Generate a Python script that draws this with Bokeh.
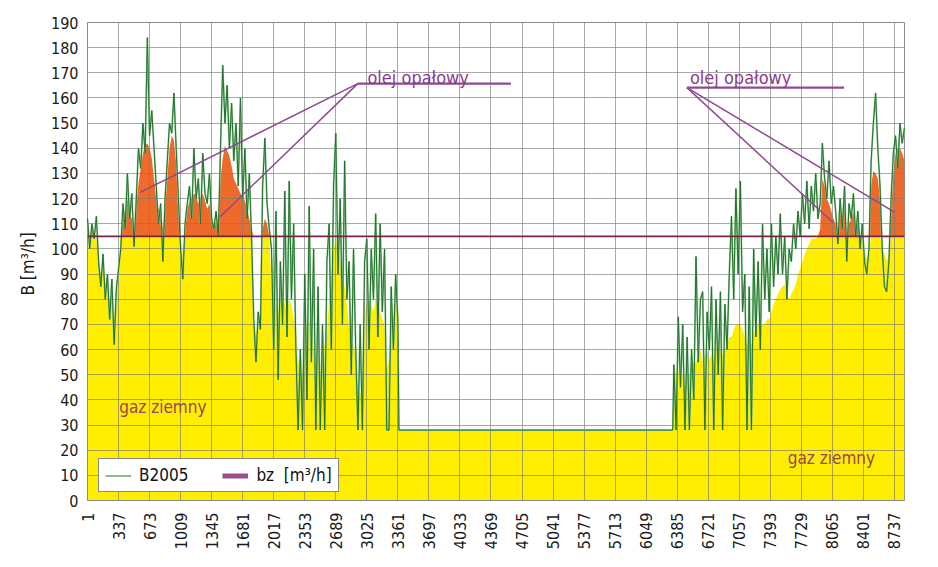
import numpy as np
from bokeh.plotting import figure
from bokeh.models import FixedTicker, Span, Legend, LegendItem, Range1d, Label, ColumnDataSource
from bokeh.embed import file_html
from bokeh.resources import INLINE

FONT = "DejaVu Sans Condensed"

# ---------------- data ----------------
x_ticks = [1, 337, 673, 1009, 1345, 1681, 2017, 2353, 2689, 3025, 3361, 3697, 4033,
           4369, 4705, 5041, 5377, 5713, 6049, 6385, 6721, 7057, 7393, 7729, 8065,
           8401, 8737]
x_tick_labels = [str(t) for t in x_ticks]
y_ticks = [0, 10, 20, 30, 40, 50, 60, 70, 80, 90, 100, 110, 120, 130, 140, 150,
           160, 170, 180, 190]

step_hours = 24
winter1_start = 1
winter2_start = 6349

# B2005 hourly demand (read at ~daily spacing), heating season Jan-May
b_winter1 = [112, 100, 110, 104, 113,
             95, 85, 98, 80, 90, 72, 88, 62, 84, 92,
             100, 118, 108, 130, 112, 122, 101,
             120, 140, 132, 150, 138, 184, 145, 155, 140,
             125, 110, 118, 95, 120,
             135, 150, 146, 162, 140,
             120, 100, 88, 110,
             118, 125, 112, 140, 120, 128, 110, 138, 122, 118, 130, 112,
             108, 115, 105,
             140, 173, 150, 165, 140, 158, 135,
             150, 125, 160, 120, 140, 112, 130, 105,
             72, 55, 75, 68,
             125, 144, 118, 108,
             100, 60, 115, 48, 95, 70, 123, 65, 127, 80, 110, 60,
             28, 60, 28,
             90, 40, 117, 55, 100, 28, 85, 28, 70, 28, 95,
             110, 60, 125, 146, 90, 120, 70, 135, 80,
             95, 50, 100, 60,
             28, 70, 28,
             95, 104, 60, 100, 80, 114, 65, 110, 75, 100,
             28, 28,
             85, 60, 90, 72]
# fill level (gas + oil split), heating season Jan-May
s_winter1 = [106, 105, 108, 106, 104,
             96, 90, 92, 84, 86, 78, 80, 70, 82, 88,
             104, 112, 116, 120, 114, 112, 106,
             118, 126, 132, 138, 141, 142, 140, 136, 128,
             120, 116, 114, 108, 116,
             128, 140, 145, 143, 134,
             114, 104, 98, 106,
             116, 119, 120, 122, 121, 118, 120, 122, 119, 116, 118, 113,
             108, 111, 112,
             128, 136, 141, 139, 137, 133, 128,
             126, 124, 122, 121, 119, 116, 112, 108,
             70, 66, 70, 68,
             108, 112, 110, 104,
             86, 80, 78, 74, 80, 83, 78, 75, 80, 78, 72, 68,
             56, 52, 50,
             64, 70, 72, 68, 60, 54, 58, 50, 58, 62, 66,
             80, 90, 100, 104, 100, 95, 90, 85, 78,
             70, 64, 62, 58,
             45, 42, 44,
             74, 78, 80, 78, 75, 80, 78, 75, 72, 70,
             52, 56,
             74, 72, 78, 76]

summer_hours = [3373, 6337]
summer_level = [28, 28]

# heating season Sep-Dec
b_winter2 = [54,
             28, 73, 45, 70, 28, 65, 28, 60, 40,
             97, 55, 80,
             83, 28, 75, 60, 85, 28, 80, 50, 83, 28, 78, 60, 90,
             113, 80, 124, 90, 127, 75,
             90, 28, 85, 28, 100, 65, 95, 60,
             110, 80, 100, 75, 110, 85, 105, 90, 114,
             90, 105, 80, 100, 95, 110,
             100, 115, 105, 122, 110, 127, 108, 125, 115, 130, 112, 118,
             142, 128, 120, 135, 118, 125, 115,
             102, 120, 108, 125, 95, 118, 112, 122, 105, 115, 100, 110, 95, 90, 100,
             135, 150, 162, 140, 125,
             100, 85, 83, 95,
             120, 138, 145, 132, 150, 142, 148]
s_winter2 = [53,
             50, 52, 48, 50, 45, 48, 50, 52, 55,
             55, 58, 60,
             55, 58, 60, 56, 58, 55, 60, 62, 60, 58, 60, 62, 65,
             65, 68, 70, 70, 70, 68,
             65, 62, 64, 62, 66, 68, 70, 70,
             70, 70, 72, 72, 75, 78, 80, 82, 84,
             85, 86, 82, 80, 82, 84,
             86, 90, 92, 95, 98, 100, 102, 104, 104, 104, 105, 108,
             128, 125, 120, 118, 115, 112, 110,
             104, 115, 112, 118, 106, 110, 112, 115, 108, 110, 104, 103, 99, 96, 98,
             125, 131, 130, 128, 120,
             100, 98, 95, 98,
             115, 130, 138, 140, 140, 138, 135]

bz_level = 105

# ---------------- assemble ----------------
hours = np.concatenate([
    winter1_start + step_hours * np.arange(len(b_winter1)),
    np.array(summer_hours),
    winter2_start + step_hours * np.arange(len(b_winter2)),
]).astype(float)
B = np.array(b_winter1 + summer_level + b_winter2, dtype=float)
S = np.array(s_winter1 + summer_level + s_winter2, dtype=float)

gas = np.minimum(S, bz_level)
oil = np.maximum(S, bz_level)

src = ColumnDataSource(dict(h=hours, b=B, gas=gas, oil=oil, base=np.zeros_like(S),
                            bz=np.full_like(S, bz_level)))

p = figure(width=938, height=567, output_backend="svg", toolbar_location=None,
           x_range=Range1d(1, 8846), y_range=Range1d(0, 190),
           min_border_left=87, min_border_right=34, min_border_top=22,
           min_border_bottom=67)
p.background_fill_color = "white"
p.border_fill_color = "white"
p.outline_line_color = "#8a8a8a"
p.outline_line_width = 1

# fills
p.varea(x="h", y1="base", y2="gas", source=src, fill_color="#FFEE00", fill_alpha=1)
p.varea(x="h", y1="bz", y2="oil", source=src, fill_color="#EE6A2A", fill_alpha=1)

# demand line
r_light = p.line(x="h", y="b", source=src, line_color="#86c886", line_width=1.8, line_alpha=0.9)
r_b = p.line(x="h", y="b", source=src, line_color="#23702f", line_width=1.0)
r_light.level = "annotation"
r_b.level = "annotation"

# bz horizontal line
p.add_layout(Span(location=bz_level, dimension="width", line_color="#7a2445", line_width=1.6))

# legend swatch for bz (no visible data)
r_bz_leg = p.line(x=[np.nan, np.nan], y=[np.nan, np.nan], line_color="#9b4d8e", line_width=5)

# annotation leader lines
ann_color = "#8e4a8e"
lead = p.multi_line(xs=[[2927, 4585], [2927, 571], [2927, 1431],
                        [6490, 8192], [6490, 8069], [6490, 8737]],
                    ys=[[165.7, 165.7], [165.7, 122.5], [165.7, 112.6],
                        [164.1, 164.1], [164.1, 110.6], [164.1, 114.6]],
                    line_color=ann_color, line_width=[2.2, 1.5, 1.5, 2.2, 1.5, 1.5])
lead.level = "annotation"

for (lx, ly) in [(3032, 168.3), (6523, 168.3)]:
    p.add_layout(Label(x=lx, y=ly, text="olej opałowy", text_font=FONT,
                       text_font_size="18px", text_color="#8b3d8b",
                       text_baseline="alphabetic"))
for (lx, ly) in [(344, 37.1), (7582, 17.0)]:
    p.add_layout(Label(x=lx, y=ly, text="gaz ziemny", text_font=FONT,
                       text_font_size="17px", text_color="#9a4656",
                       text_baseline="alphabetic"))

# axes
p.xaxis.ticker = FixedTicker(ticks=x_ticks)
p.xaxis.major_label_overrides = {t: l for t, l in zip(x_ticks, x_tick_labels)}
p.xaxis.major_label_orientation = np.pi / 2
p.yaxis.ticker = FixedTicker(ticks=y_ticks)
for ax in (p.xaxis, p.yaxis):
    ax.axis_line_color = "#8a8a8a"
    ax.major_tick_line_color = None
    ax.minor_tick_line_color = None
    ax.major_tick_out = 0
    ax.major_tick_in = 0
    ax.major_label_text_font = FONT
    ax.major_label_text_font_size = "16px"
    ax.major_label_text_color = "#1a1a1a"
p.xaxis.major_label_standoff = 12
p.yaxis.major_label_standoff = 9
p.yaxis.axis_label = "B  [m³/h]"
p.yaxis.axis_label_text_font = FONT
p.yaxis.axis_label_text_font_size = "17px"
p.yaxis.axis_label_text_font_style = "normal"
p.yaxis.axis_label_text_color = "#1a1a1a"
p.yaxis.axis_label_standoff = 10

p.grid.grid_line_color = "#7a7a7a"
p.grid.grid_line_alpha = 0.65
p.grid.grid_line_width = 1
p.grid.level = "guide"

legend = Legend(items=[LegendItem(label="B2005", renderers=[r_b]),
                       LegendItem(label="bz  [m³/h]", renderers=[r_bz_leg])],
                orientation="horizontal", location=(11, 8),
                label_text_font=FONT, label_text_font_size="17px",
                label_text_color="#111111",
                border_line_color="#111111", border_line_width=1,
                background_fill_color="white", background_fill_alpha=1,
                padding=6, spacing=34, glyph_width=26, glyph_height=19,
                label_height=19, label_standoff=8, margin=0)
p.add_layout(legend)

open("out.html", "w").write(file_html(p, INLINE))
